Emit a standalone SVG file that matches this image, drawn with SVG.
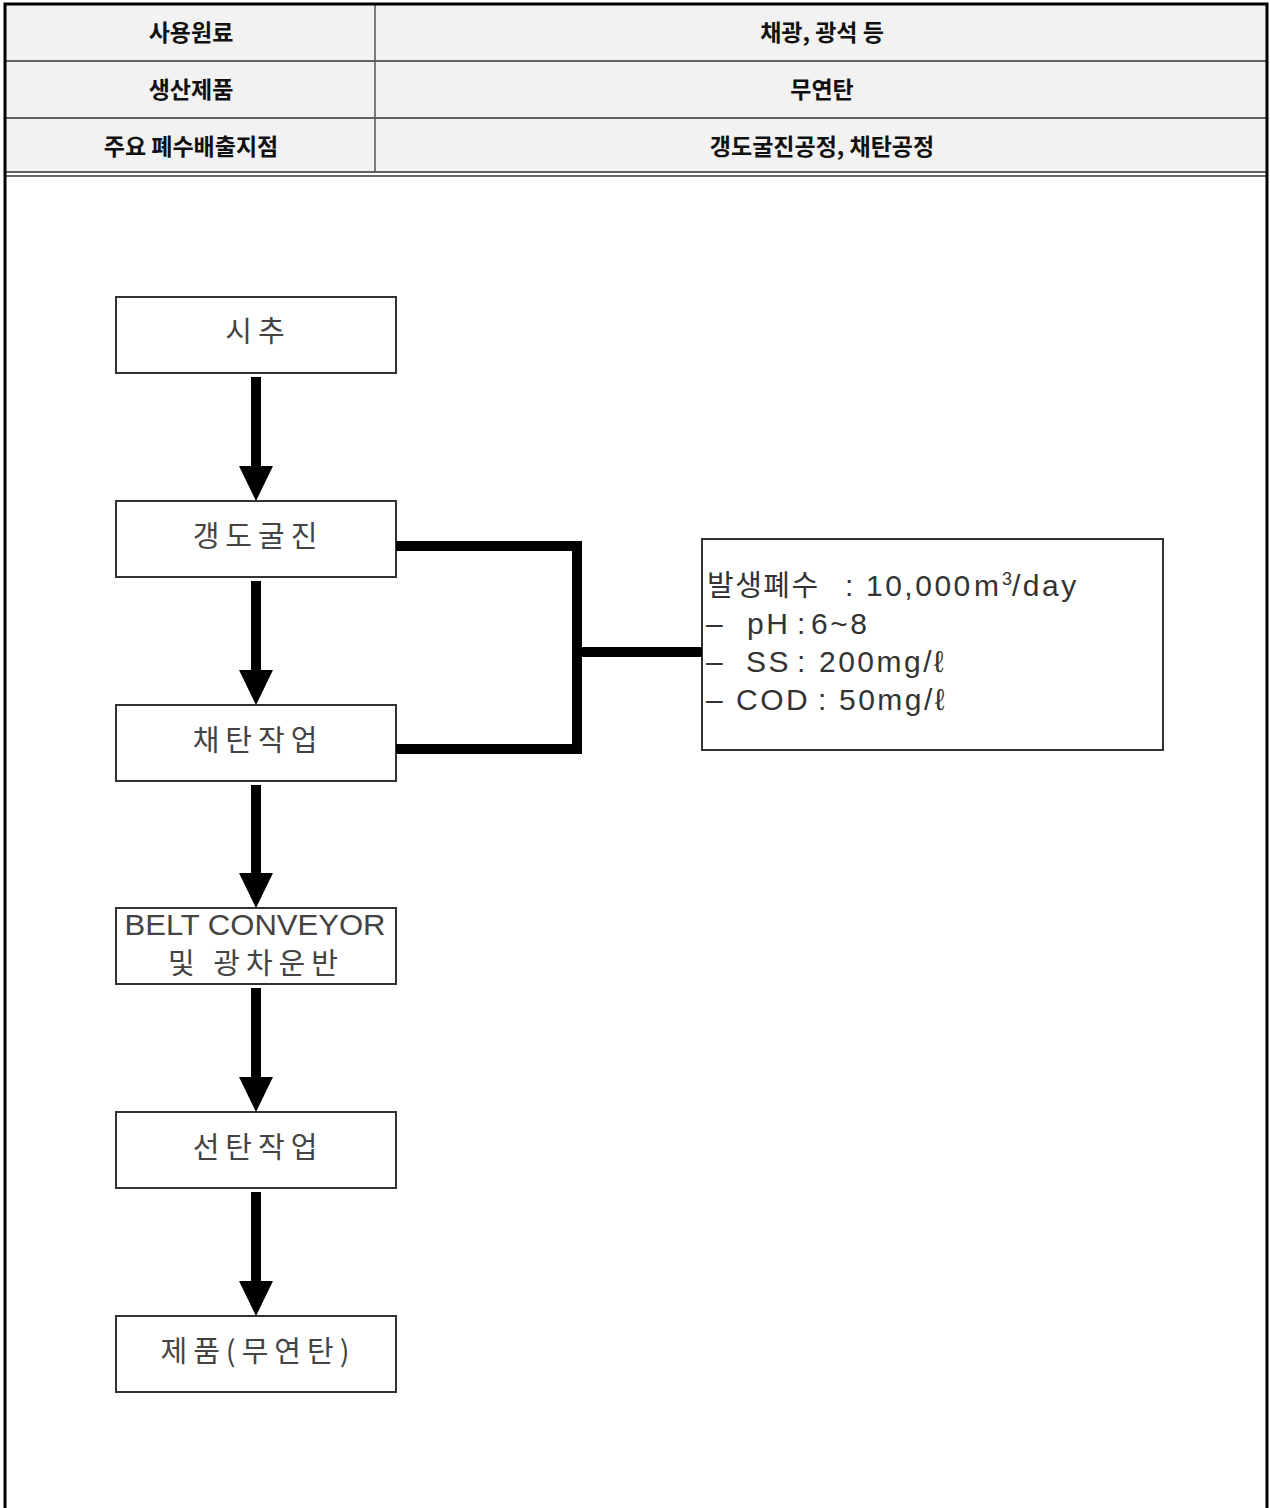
<svg xmlns="http://www.w3.org/2000/svg" width="1270" height="1508" viewBox="0 0 1270 1508">
  <style>
    .hdr { font-family: "Noto Sans CJK KR", "Noto Sans", sans-serif; font-weight: 700; font-size: 23px; fill: #111; text-anchor: middle; }
    .box { fill: #fff; stroke: #333; stroke-width: 2; }
    .lbl { font-family: "Noto Sans CJK KR", "Liberation Sans", sans-serif; font-size: 29px; fill: #444; text-anchor: middle; letter-spacing: 6px; }
    .lat { font-family: "Liberation Sans", "Noto Sans CJK KR", sans-serif; font-size: 29px; fill: #444; text-anchor: middle; letter-spacing: 0; }
    .info { font-family: "Liberation Sans", "Noto Sans CJK KR", sans-serif; font-size: 30px; fill: #333; letter-spacing: 2.5px; }
    .ko { font-family: "Noto Sans CJK KR", sans-serif; font-size: 29px; letter-spacing: 1.5px; }
    .wire { fill: none; stroke: #000; stroke-width: 10; }
  </style>
  <defs>
    <!-- arrowhead drawn along +x; its base sits on the line end -->
    <marker id="head" markerUnits="userSpaceOnUse" markerWidth="36" markerHeight="36" refX="0" refY="18" viewBox="0 0 36 36" orient="auto">
      <path d="M0,1 L35,18 L0,35 Z" fill="#000"/>
    </marker>
  </defs>
  <rect width="1270" height="1508" fill="#fff"/>

  <!-- header table -->
  <g id="header">
    <rect x="6" y="4" width="1261" height="169" fill="#f2f2f2"/>
    <line x1="6" y1="61" x2="1267" y2="61" stroke="#333" stroke-width="1.5"/>
    <line x1="6" y1="118" x2="1267" y2="118" stroke="#333" stroke-width="1.5"/>
    <line x1="6" y1="172" x2="1267" y2="172" stroke="#333" stroke-width="1.5"/>
    <line x1="6" y1="176" x2="1267" y2="176" stroke="#333" stroke-width="1.5"/>
    <line x1="375" y1="4" x2="375" y2="173" stroke="#555" stroke-width="1.5"/>
    <text class="hdr" x="191" y="41">사용원료</text>
    <text class="hdr" x="822" y="41">채광, 광석 등</text>
    <text class="hdr" x="191" y="98">생산제품</text>
    <text class="hdr" x="822" y="98">무연탄</text>
    <text class="hdr" x="191" y="155">주요 폐수배출지점</text>
    <text class="hdr" x="822" y="155">갱도굴진공정, 채탄공정</text>
  </g>

  <!-- outer frame -->
  <path d="M5,1508 V4 H1267 V1508" fill="none" stroke="#000" stroke-width="3"/>

  <!-- process steps -->
  <g id="step-sichu">
    <rect class="box" x="116" y="297" width="280" height="76"/>
    <text class="lbl" x="258" y="342">시추</text>
  </g>
  <g id="step-tunnel">
    <rect class="box" x="116" y="501" width="280" height="76"/>
    <text class="lbl" x="258" y="547">갱도굴진</text>
  </g>
  <g id="step-mining">
    <rect class="box" x="116" y="705" width="280" height="76"/>
    <text class="lbl" x="258" y="751">채탄작업</text>
  </g>
  <g id="step-conveyor">
    <rect class="box" x="116" y="908" width="280" height="76"/>
    <text class="lat" x="255" y="935" textLength="261" lengthAdjust="spacingAndGlyphs">BELT CONVEYOR</text>
    <text class="lbl" x="256" y="974">및 광차운반</text>
  </g>
  <g id="step-sorting">
    <rect class="box" x="116" y="1112" width="280" height="76"/>
    <text class="lbl" x="258" y="1158">선탄작업</text>
  </g>
  <g id="step-product">
    <rect class="box" x="116" y="1316" width="280" height="76"/>
    <text class="lbl" x="258" y="1362">제품(무연탄)</text>
  </g>

  <!-- wastewater box -->
  <g id="wastewater">
    <rect class="box" x="702" y="539" width="461" height="211"/>
    <text class="info" y="596"><tspan class="ko" x="707">발생폐수</tspan><tspan x="845">:</tspan><tspan x="866">10,000</tspan><tspan x="974">m</tspan><tspan x="1002" dy="-11" font-size="18" letter-spacing="0">3</tspan><tspan dy="11">/day</tspan></text>
    <text class="info" y="634"><tspan x="706">–</tspan><tspan x="747">pH</tspan><tspan x="797">:</tspan><tspan x="811">6~8</tspan></text>
    <text class="info" y="672"><tspan x="706">–</tspan><tspan x="746">SS</tspan><tspan x="797">:</tspan><tspan x="819">200mg/ℓ</tspan></text>
    <text class="info" y="710"><tspan x="706">–</tspan><tspan x="736">COD</tspan><tspan x="818">:</tspan><tspan x="839">50mg/ℓ</tspan></text>
  </g>

  <!-- connectors -->
  <g id="connectors">
    <line class="wire" x1="256" y1="377" x2="256" y2="466" marker-end="url(#head)"/>
    <line class="wire" x1="256" y1="581" x2="256" y2="670" marker-end="url(#head)"/>
    <line class="wire" x1="256" y1="785" x2="256" y2="873" marker-end="url(#head)"/>
    <line class="wire" x1="256" y1="988" x2="256" y2="1077" marker-end="url(#head)"/>
    <line class="wire" x1="256" y1="1192" x2="256" y2="1281" marker-end="url(#head)"/>
    <path class="wire" d="M396,546 H577 V749 H396" stroke-linejoin="miter"/>
    <line class="wire" x1="577" y1="652" x2="702" y2="652"/>
  </g>
</svg>
